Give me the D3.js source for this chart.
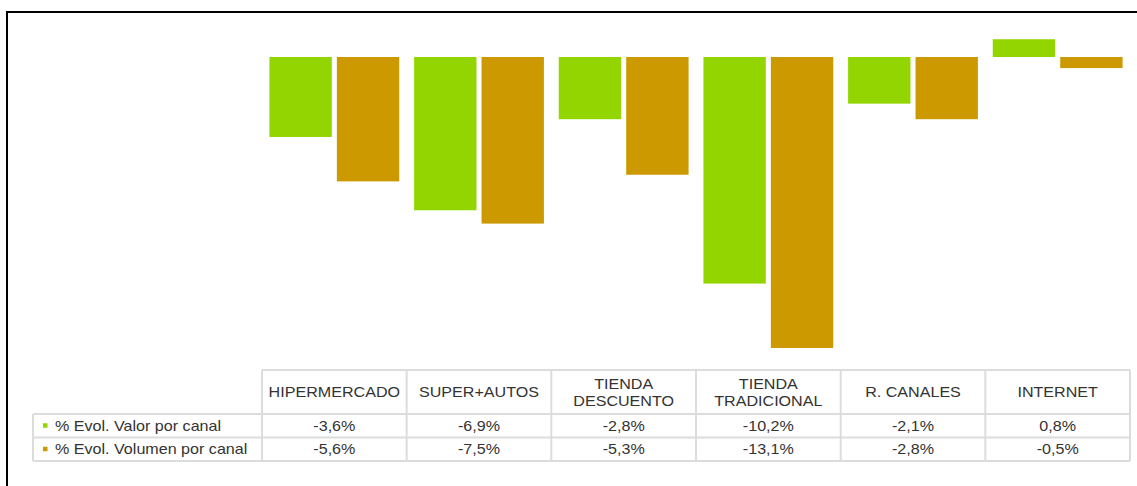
<!DOCTYPE html>
<html>
<head>
<meta charset="utf-8">
<script src="https://cdn.jsdelivr.net/npm/d3@7"></script>
<style>
  html, body { margin: 0; padding: 0; background: #fff; }
  svg text { font-family: "Liberation Sans", Arial, sans-serif; fill: #333; }
</style>
</head>
<body>
<svg id="chart" width="1137" height="486"></svg>
<script>
(function() {
'use strict';

// data
var categories = [['HIPERMERCADO'], ['SUPER+AUTOS'], ['TIENDA', 'DESCUENTO'],
    ['TIENDA', 'TRADICIONAL'], ['R. CANALES'], ['INTERNET']];
var valor = [-3.6, -6.9, -2.8, -10.2, -2.1, 0.8];
var volumen = [-5.6, -7.5, -5.3, -13.1, -2.8, -0.5];
var seriesNames = ['% Evol. Valor por canal', '% Evol. Volumen por canal'];
var colors = ['#93d500', '#cc9a00'];

var series = [valor, volumen];
var svg = d3.select('#chart');

var loc = d3.formatLocale({decimal: ',', thousands: '.', grouping: [3], currency: ['', '%'], minus: '-'});
var fmt = function(v) { return loc.format('.1f')(v) + '%'; };

var keys = categories.map(function(c, i) { return i; });
var x = d3.scaleBand().domain(keys).range([262, 1130]);
var x1 = d3.scaleBand().domain([0, 1]).range([0, x.bandwidth()])
    .paddingInner(0.075).paddingOuter(0.11);
var y = d3.scaleLinear().domain([0, d3.min(volumen)]).range([57, 348]);

// frame (top and left only)
svg.append('path')
    .attr('d', 'M7,486 L7,12 L1137,12')
    .attr('fill', 'none')
    .attr('stroke', '#000')
    .attr('stroke-width', 2);

// bars
series.forEach(function(vals, s) {
    svg.append('g').selectAll('rect')
        .data(vals)
        .enter()
        .append('rect')
        .attr('x', function(d, i) { return x(i) + x1(s); })
        .attr('width', x1.bandwidth())
        .attr('y', function(d) { return Math.min(y(d), y(0)); })
        .attr('height', function(d) { return Math.abs(y(d) - y(0)); })
        .attr('fill', colors[s]);
});

// data table
var headTop = 370, headH = 44, rowH = 23.5, labelLeft = 33;
var grid = svg.append('g')
    .attr('fill', 'none')
    .attr('stroke', '#dcdcdc')
    .attr('stroke-width', 2);
var tableBottom = headTop + headH + 2 * rowH;

// header cells
grid.append('line').attr('x1', x.range()[0]).attr('x2', x.range()[1])
    .attr('y1', headTop).attr('y2', headTop);
// row lines
[0, 1, 2].forEach(function(r) {
    var yy = headTop + headH + r * rowH;
    grid.append('line').attr('x1', labelLeft).attr('x2', x.range()[1])
        .attr('y1', yy).attr('y2', yy);
});
// vertical lines
keys.concat([keys.length]).forEach(function(i) {
    var xx = i < keys.length ? x(i) : x.range()[1];
    grid.append('line').attr('x1', xx).attr('x2', xx)
        .attr('y1', headTop).attr('y2', tableBottom);
});
grid.append('line').attr('x1', labelLeft).attr('x2', labelLeft)
    .attr('y1', headTop + headH).attr('y2', tableBottom);

var stretch = 'scale(1.15,1)';

// header labels
keys.forEach(function(i) {
    var lines = categories[i];
    var cx = x(i) + x.bandwidth() / 2;
    var cy = headTop + headH / 2;
    lines.forEach(function(line, k) {
        var ty = cy + (k - (lines.length - 1) / 2) * 17 + 5;
        svg.append('text')
            .attr('transform', 'translate(' + cx + ',' + ty + ') ' + stretch)
            .attr('text-anchor', 'middle')
            .attr('font-size', 14)
            .text(line);
    });
});

// row labels and values
series.forEach(function(vals, s) {
    var cy = headTop + headH + s * rowH + rowH / 2;
    svg.append('rect')
        .attr('x', 43).attr('y', cy - 2.5)
        .attr('width', 4.5).attr('height', 4.5)
        .attr('fill', colors[s]);
    svg.append('text')
        .attr('transform', 'translate(55,' + (cy + 5) + ') ' + stretch)
        .attr('font-size', 14)
        .text(seriesNames[s]);
    vals.forEach(function(v, i) {
        svg.append('text')
            .attr('transform', 'translate(' + (x(i) + x.bandwidth() / 2) + ',' + (cy + 5) + ') ' + stretch)
            .attr('text-anchor', 'middle')
            .attr('font-size', 14)
            .text(fmt(v));
    });
});

})();
</script>
</body>
</html>
